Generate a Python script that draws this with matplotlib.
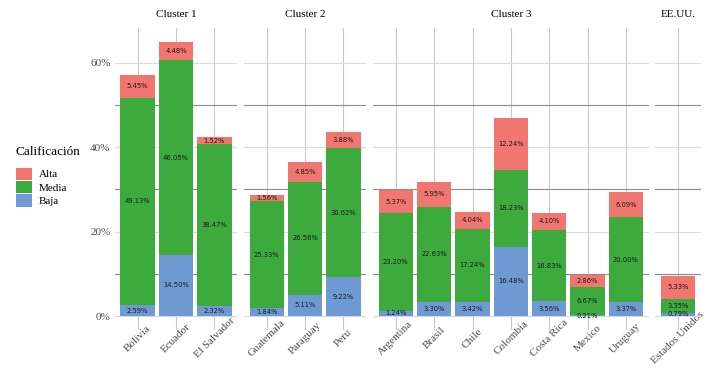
import matplotlib
matplotlib.use("Agg")
import matplotlib.pyplot as plt
import matplotlib.transforms as mtransforms
from matplotlib.patches import Patch
import numpy as np

# --- datos (porcentajes) ---
clusters = ["Cluster 1", "Cluster 2", "Cluster 3", "EE.UU."]
paises = [
    ["Bolivia", "Ecuador", "El Salvador"],
    ["Guatemala", "Paraguay", "Peru"],
    ["Argentina", "Brasil", "Chile", "Colombia", "Costa Rica", "Mexico", "Uruguay"],
    ["Estados Unidos"],
]
baja = [
    [2.59, 14.50, 2.32],
    [1.84, 5.11, 9.22],
    [1.24, 3.30, 3.42, 16.48, 3.56, 0.21, 3.37],
    [0.79],
]
media = [
    [49.13, 46.05, 38.47],
    [25.33, 26.56, 30.62],
    [23.20, 22.63, 17.24, 18.23, 16.83, 6.67, 20.00],
    [3.35],
]
alta = [
    [5.45, 4.48, 1.52],
    [1.56, 4.85, 3.88],
    [5.37, 5.95, 4.04, 12.24, 4.10, 2.86, 6.09],
    [5.33],
]

C_ALTA = "#F1766F"
C_MEDIA = "#3CAA3C"
C_BAJA = "#6E99D3"

SERIF = ["Liberation Serif", "DejaVu Serif"]
plt.rcParams["font.family"] = SERIF

fig = plt.figure(figsize=(7.17, 3.71), dpi=100)
widths = [len(p) + 0.2 for p in paises]
gs = fig.add_gridspec(1, 4, width_ratios=widths, left=0.160, right=0.978,
                      bottom=0.111, top=0.925, wspace=0.045)

ymax = max(max(b + m + a for b, m, a in zip(bb, mm, aa))
           for bb, mm, aa in zip(baja, media, alta))
pad = ymax * 0.05
shift = mtransforms.ScaledTranslation(3 / 100, 0, fig.dpi_scale_trans)

for i in range(4):
    ax = fig.add_subplot(gs[0, i])
    x = np.arange(len(paises[i]))
    b = np.array(baja[i]); m = np.array(media[i]); a = np.array(alta[i])
    ax.bar(x, b, width=0.9, color=C_BAJA, zorder=3)
    ax.bar(x, m, width=0.9, bottom=b, color=C_MEDIA, zorder=3)
    ax.bar(x, a, width=0.9, bottom=b + m, color=C_ALTA, zorder=3)
    for xi, bi, mi, ai in zip(x, b, m, a):
        for base, v in ((0, bi), (bi, mi), (bi + mi, ai)):
            ax.text(xi, base + v / 2, f"{v:.2f}%", ha="center", va="center",
                    fontsize=4.9, family="DejaVu Sans", color="#1a1a1a", zorder=4)

    ax.set_xlim(-0.6, len(x) - 0.4)
    ax.set_ylim(-pad, ymax + pad)
    ax.set_xticks(x)
    ax.set_xticklabels(paises[i], rotation=45, ha="center", va="center",
                       rotation_mode="anchor", fontsize=8, color="#4D4D4D")
    for lab in ax.get_xticklabels():
        lab.set_transform(lab.get_transform() + shift)
    ax.set_yticks([0, 20, 40, 60])
    ax.set_yticks([10, 30, 50], minor=True)
    if i == 0:
        ax.set_yticklabels(["0%", "20%", "40%", "60%"], fontsize=8, color="#4D4D4D")
    else:
        ax.set_yticklabels([])
    ax.tick_params(axis="x", which="both", length=0, pad=6)
    ax.tick_params(axis="y", which="both", length=0, pad=3)
    ax.grid(True, axis="y", which="major", color="#D9D9D9", lw=0.8, zorder=0)
    ax.grid(True, axis="y", which="minor", color="#8C8C8C", lw=0.8, zorder=0)
    ax.grid(True, axis="x", which="major", color="#C8C8C8", lw=0.8, zorder=0)
    for s in ax.spines.values():
        s.set_visible(False)
    ax.set_title(clusters[i], fontsize=8, pad=8)

handles = [Patch(facecolor=C_ALTA, label="Alta"),
           Patch(facecolor=C_MEDIA, label="Media"),
           Patch(facecolor=C_BAJA, label="Baja")]
leg = fig.legend(handles=handles, title="Calificación", loc="center left",
                 bbox_to_anchor=(0.008, 0.525), frameon=False, fontsize=8,
                 title_fontsize=9.5, handlelength=1.5, handleheight=1.3,
                 labelspacing=0.12, handletextpad=0.6)
leg._legend_box.align = "left"
leg._legend_box.sep = 7

fig.savefig("out.png", dpi=100, facecolor="white")
